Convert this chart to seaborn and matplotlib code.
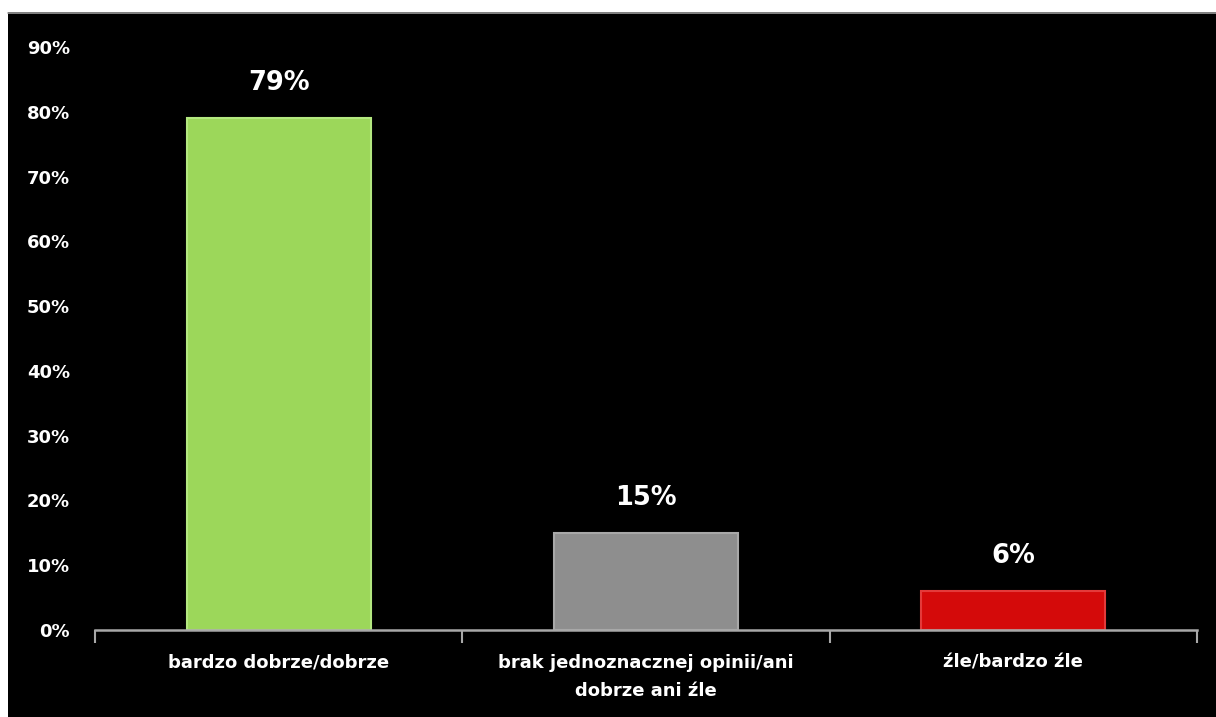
import matplotlib
matplotlib.use("Agg")
import matplotlib.pyplot as plt
import seaborn as sns
import pandas as pd
from matplotlib.patches import Rectangle
from matplotlib.lines import Line2D

categories = ["bardzo dobrze/dobrze",
              "brak jednoznacznej opinii/ani\ndobrze ani źle",
              "źle/bardzo źle"]
values = [79, 15, 6]
value_labels = ["79%", "15%", "6%"]
yticks = [0, 10, 20, 30, 40, 50, 60, 70, 80, 90]
ytick_labels = [f"{t}%" for t in yticks]
colors = ["#9CD75A", "#8E8E8E", "#D40A0A"]
edge_colors = ["#B4E880", "#A8A8A8", "#E43A3A"]

sns.set_theme(style="white")
plt.rcParams['font.family'] = ['DejaVu Sans']

fig = plt.figure(figsize=(12.16, 7.17), dpi=100, facecolor="black")
# white margin strips at left/top
fig.patches.append(Rectangle((0, 0), 8/1216, 1, transform=fig.transFigure,
                             facecolor="white", edgecolor="none", zorder=-5))
fig.patches.append(Rectangle((0, 1 - 12/717), 1, 12/717, transform=fig.transFigure,
                             facecolor="white", edgecolor="none", zorder=-5))
fig.lines.append(Line2D([8/1216, 1], [1 - 12.5/717, 1 - 12.5/717],
                        transform=fig.transFigure, color="#9a9a9a", lw=1.2))

ax = fig.add_axes([95/1216, 1 - 630/717, (1197 - 95)/1216, (630 - 47)/717])
ax.set_facecolor("black")

df = pd.DataFrame({"cat": categories, "val": values})
sns.barplot(data=df, x="cat", y="val", hue="cat", palette=colors,
            dodge=False, legend=False, width=0.5, ax=ax,
            edgecolor="none", saturation=1)
for p, ec in zip(ax.patches, edge_colors):
    p.set_edgecolor(ec)
    p.set_linewidth(1.5)

for i, (v, lab) in enumerate(zip(values, value_labels)):
    ax.annotate(lab, (i, v), xytext=(0, 16), textcoords="offset points",
                ha="center", va="bottom", color="white",
                fontsize=18.5, fontweight="bold")

ax.set_ylim(0, 90)
ax.set_xlim(-0.5, 2.5)
ax.set_yticks(yticks)
ax.set_yticklabels(ytick_labels)
ax.set_xlabel("")
ax.set_ylabel("")

for s in ["top", "right", "left"]:
    ax.spines[s].set_visible(False)
ax.spines["bottom"].set_color("#a8a8a8")
ax.spines["bottom"].set_linewidth(1.8)

ax.tick_params(axis="y", length=0, pad=18, labelcolor="white", labelsize=13)
for t in ax.get_yticklabels():
    t.set_fontweight("bold")
ax.tick_params(axis="x", which="major", length=0, pad=17,
               labelcolor="white", labelsize=13)
for t in ax.get_xticklabels():
    t.set_fontweight("bold")
    t.set_linespacing(1.75)
ax.set_xticks([-0.5, 0.5, 1.5, 2.5], minor=True)
ax.tick_params(axis="x", which="minor", length=9, width=1.5, color="#a8a8a8",
               direction="out", bottom=True)
ax.grid(False)

fig.savefig("out.png", dpi=100, facecolor=fig.get_facecolor())
